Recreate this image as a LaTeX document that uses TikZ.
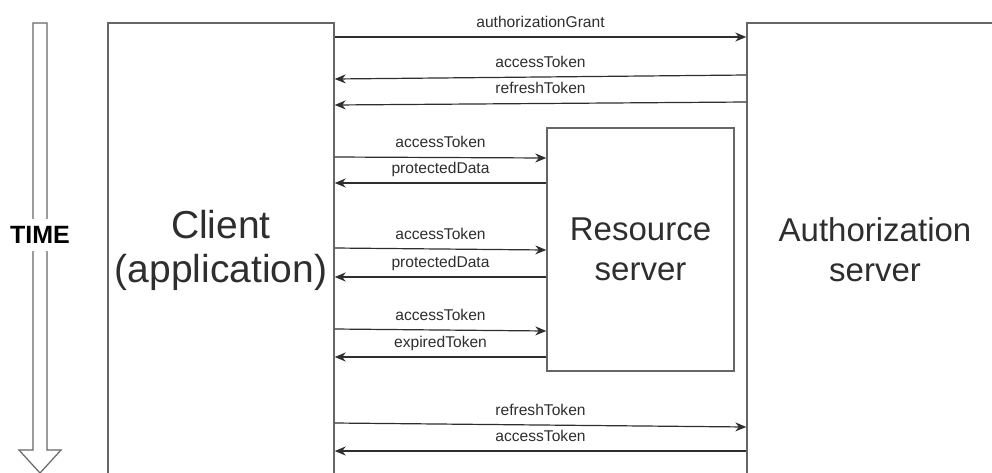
\documentclass[tikz,border=0pt]{standalone}
\usepackage{fontspec}
\setmainfont{Liberation Sans}
\usetikzlibrary{arrows.meta}

\definecolor{framegray}{HTML}{666666}
\definecolor{inkgray}{HTML}{2E2E2E}

\begin{document}
\begin{tikzpicture}[x = 1pt, y = -1pt,
        party/.style = {draw = framegray, line width = 1.4pt, inner sep = 0pt,
                align = center, text = inkgray},
        msg/.style = {draw = inkgray, line width = 1.2pt,
                -{Stealth[length = 11pt, width = 9pt, inset = 3.5pt]}},
        msglabel/.style = {midway, anchor = base, yshift = 10pt, inner sep = 0pt,
                text = inkgray, font = \fontsize{15.6}{18}\selectfont}]
        \clip (0,0) rectangle (992,472);

        % time axis
        \draw[draw = framegray, line width = 1.2pt, line join = miter] (33,23) -- (47,23) -- (47,450)
                -- (61,450) -- (40,473) -- (19,450) -- (33,450) -- cycle;
        \node[fill = white, inner sep = 7pt, text = black,
                font = \fontsize{25}{28}\selectfont\bfseries] (time) at (40,235) {TIME};

        % parties
        \node[party, minimum width = 226pt, minimum height = 454pt,
                font = \fontsize{39}{44}\selectfont] (client) at (221,250) {Client\\(application)};
        \node[party, minimum width = 256pt, minimum height = 454pt,
                font = \fontsize{33}{40}\selectfont] (auth) at (875,250) {Authorization\\server};
        \node[party, minimum width = 187pt, minimum height = 243pt,
                font = \fontsize{33}{40}\selectfont] (res) at (640.5,249.5) {Resource\\server};

        % token requests
        \draw[msg] (client.east |- 0,37) -- node[msglabel] {authorizationGrant} (auth.west |- 0,37);
        \draw[msg] (auth.west |- 0,75) -- node[msglabel] {accessToken} (client.east |- 0,79);
        \draw[msg] (auth.west |- 0,102) -- node[msglabel] {refreshToken} (client.east |- 0,105);

        % resource calls
        \draw[msg] (client.east |- 0,157) -- node[msglabel] {accessToken} (res.west |- 0,158);
        \draw[msg] (res.west |- 0,183) -- node[msglabel] {protectedData} (client.east |- 0,183);
        \draw[msg] (client.east |- 0,248) -- node[msglabel] {accessToken} (res.west |- 0,250);
        \draw[msg] (res.west |- 0,277) -- node[msglabel] {protectedData} (client.east |- 0,277);
        \draw[msg] (client.east |- 0,329) -- node[msglabel] {accessToken} (res.west |- 0,331);
        \draw[msg] (res.west |- 0,357) -- node[msglabel] {expiredToken} (client.east |- 0,357);

        % refresh
        \draw[msg] (client.east |- 0,423) -- node[msglabel] {refreshToken} (auth.west |- 0,427);
        \draw[msg] (auth.west |- 0,451) -- node[msglabel] {accessToken} (client.east |- 0,451);
\end{tikzpicture}
\end{document}
